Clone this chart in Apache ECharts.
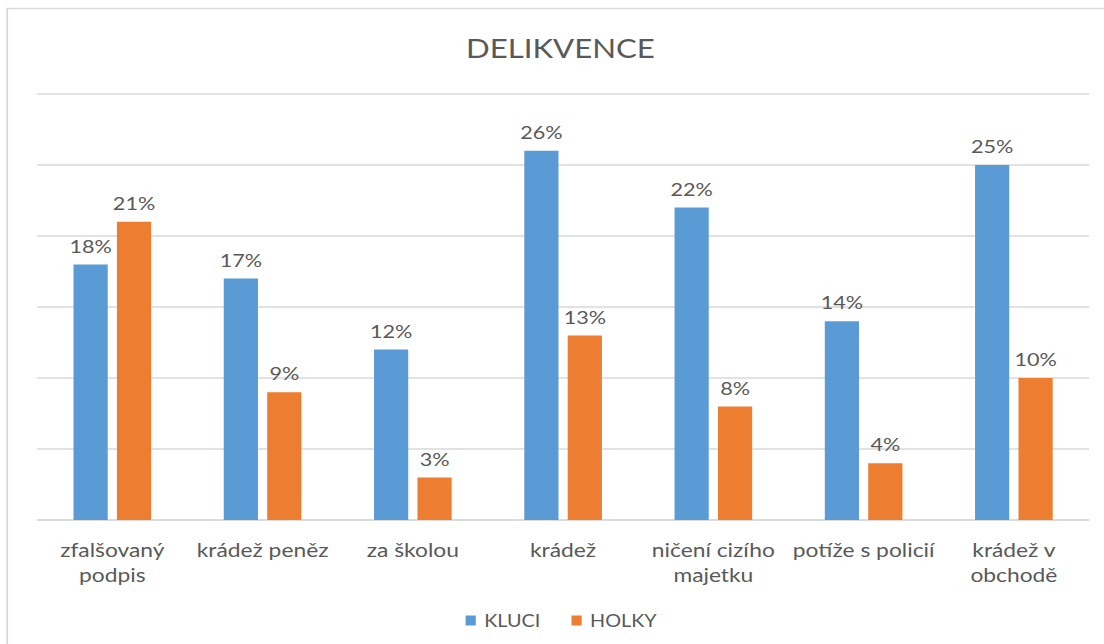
<!DOCTYPE html>
<html><head><meta charset="utf-8">
<script src="https://cdn.jsdelivr.net/npm/echarts@6/dist/echarts.min.js"></script>
<style>html,body{margin:0;padding:0;background:#fff;overflow:hidden}#c{width:920px;height:644px;transform:scaleX(1.2);transform-origin:0 0}</style>
</head><body><div id="c"></div>
<script>
const categories = ['zfalšovaný\npodpis', 'krádež peněz', 'za školou', 'krádež', 'ničení cizího\nmajetku', 'potíže s policií', 'krádež v\nobchodě'];
const kluci = [18, 17, 12, 26, 22, 14, 25];
const holky = [21, 9, 3, 13, 8, 4, 10];
const seriesNames = ['KLUCI', 'HOLKY'];
const F = 'Lato, "Liberation Sans", sans-serif';
const chart = echarts.init(document.getElementById('c'), null, {renderer: 'svg'});
const lbl = {show: true, position: 'top', formatter: '{c}%', color: '#595959', fontSize: 18, fontFamily: F, distance: 10};
chart.setOption({
  animation: false,
  title: {text: 'DELIKVENCE', left: 462, top: 30, textAlign: 'center', textStyle: {fontSize: 26, fontWeight: 'normal', color: '#595959', fontFamily: F}},
  graphic: [{type: 'rect', shape: {x: 6, y: 8.5, width: 1000, height: 700}, style: {fill: 'none', stroke: '#d9d9d9', lineWidth: 1.5}, silent: true}],
  legend: {data: seriesNames, left: 383, top: 607, itemWidth: 8.5, itemHeight: 10, itemGap: 26, icon: 'rect',
    textStyle: {fontSize: 16.5, color: '#595959', fontFamily: F, padding: [0, 0, 0, 2]}},
  grid: {left: 31, right: 12.5, top: 94, bottom: 124},
  xAxis: {type: 'category', data: categories, axisTick: {show: false},
    axisLine: {lineStyle: {color: '#d9d9d9', width: 1.5}},
    axisLabel: {color: '#595959', fontSize: 19, fontFamily: F, margin: 17, lineHeight: 25, interval: 0}},
  yAxis: {type: 'value', min: 0, max: 30, interval: 5, axisLabel: {show: false}, axisLine: {show: false}, axisTick: {show: false},
    splitLine: {lineStyle: {color: '#d9d9d9', width: 1.5}}},
  series: [
    {name: seriesNames[0], type: 'bar', data: kluci, itemStyle: {color: '#5b9bd5'}, barWidth: 28.5, barGap: '27%', label: lbl},
    {name: seriesNames[1], type: 'bar', data: holky, itemStyle: {color: '#ed7d31'}, barWidth: 28.5, label: lbl}
  ]
});
</script></body></html>
